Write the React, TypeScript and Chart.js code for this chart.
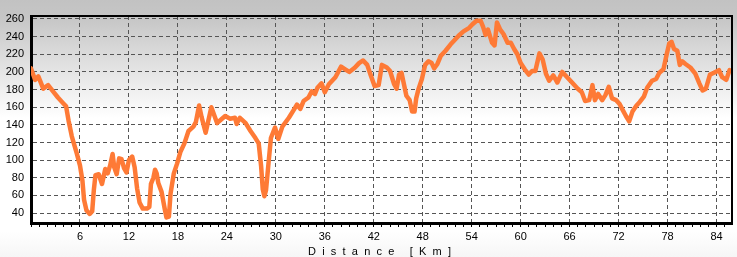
import React, { useEffect, useRef } from "react";
import { Chart, registerables } from "chart.js";

Chart.register(...registerables);

const distanceKm: number[] = [
  0, 0.5, 0.9, 1.5, 2.1, 2.7, 3.3, 4.0, 4.3, 4.6, 5.0, 5.6, 6.0, 6.3, 6.5, 6.8, 7.2, 7.5, 7.7, 7.9,
  8.3, 8.7, 9.1, 9.4, 9.7, 10.0, 10.2, 10.5, 10.8, 11.1, 11.4, 11.7, 12.0, 12.4, 12.7, 13.0, 13.3, 13.7, 14.2, 14.5,
  14.7, 15.0, 15.2, 15.4, 15.6, 16.0, 16.4, 16.6, 16.9, 17.1, 17.5, 17.9, 18.3, 18.8, 19.3, 19.9, 20.2, 20.6, 20.9, 21.4,
  22.1, 22.8, 23.8, 24.4, 25.0, 25.2, 25.6, 26.3, 26.9, 27.5, 27.9, 28.2, 28.4, 28.6, 28.8, 29.1, 29.4, 29.9, 30.3, 30.8,
  31.6, 32.2, 32.6, 33.0, 33.4, 34.0, 34.4, 34.8, 35.1, 35.6, 36.0, 36.5, 37.3, 38.0, 38.5, 39.0, 39.7, 40.2, 40.7, 41.2,
  41.6, 42.1, 42.6, 43.0, 43.6, 44.0, 44.5, 44.8, 45.1, 45.4, 45.7, 46.0, 46.4, 46.7, 47.0, 47.2, 47.5, 47.9, 48.3, 48.7,
  49.1, 49.4, 49.8, 50.2, 50.8, 51.4, 51.8, 52.4, 53.0, 53.7, 54.1, 54.6, 55.1, 55.4, 55.7, 56.0, 56.5, 56.8, 57.1, 57.5,
  57.9, 58.4, 58.8, 59.2, 59.6, 60.0, 60.5, 61.0, 61.4, 61.8, 62.3, 62.7, 63.1, 63.5, 64.0, 64.5, 65.1, 65.7, 66.3, 67.0,
  67.5, 67.9, 68.4, 68.8, 69.1, 69.5, 70.0, 70.4, 70.8, 71.2, 71.7, 72.1, 72.5, 72.9, 73.3, 73.7, 74.2, 74.6, 75.1, 75.5,
  76.1, 76.6, 77.0, 77.5, 77.9, 78.2, 78.5, 78.8, 79.2, 79.5, 79.8, 80.2, 80.8, 81.4, 81.9, 82.3, 82.7, 83.2, 83.7, 84.3,
  84.7, 85.2, 85.6,
];

const elevationM: number[] = [
  204, 191, 195, 181, 185, 178, 171, 164, 161, 145, 127, 108, 94, 77, 55, 43, 39, 42, 66, 83,
  84, 73, 90, 85, 94, 107, 92, 84, 102, 101, 91, 86, 100, 104, 92, 68, 52, 45, 45, 47,
  73, 80, 89, 85, 74, 64, 44, 35, 36, 62, 85, 96, 109, 119, 133, 138, 143, 162, 149, 131,
  160, 142, 150, 147, 148, 141, 148, 142, 133, 125, 119, 93, 67, 59, 66, 96, 125, 137, 124, 138,
  148, 157, 163, 158, 167, 171, 178, 175, 182, 187, 177, 186, 194, 206, 203, 200, 205, 210, 213, 208,
  197, 184, 185, 208, 205, 201, 186, 181, 197, 199, 186, 173, 168, 155, 155, 170, 181, 192, 208, 212,
  210, 204, 209, 218, 224, 231, 235, 241, 246, 250, 254, 258, 258, 251, 242, 248, 233, 230, 256, 248,
  243, 233, 233, 226, 220, 210, 203, 197, 201, 201, 221, 214, 198, 190, 196, 188, 200, 194, 188, 181,
  177, 167, 168, 185, 168, 175, 168, 174, 183, 170, 168, 164, 157, 150, 144, 155, 162, 166, 172, 182,
  190, 192, 199, 203, 220, 232, 234, 226, 224, 208, 212, 209, 205, 198, 187, 179, 181, 197, 199, 202,
  194, 191, 202,
];

const yTickValues: number[] = [40, 60, 80, 100, 120, 140, 160, 180, 200, 220, 240, 260];
const xMajorStep = 6;
const xMinorTicks: number[] = Array.from({ length: 86 }, (_, i) => i);
const axisTitle = "Distance [Km]";

const FONT = "'Liberation Sans', Arial, sans-serif";

const backgroundPlugin = {
  id: "bgGradient",
  beforeDraw(chart: any) {
    const { ctx, width, height } = chart;
    ctx.save();
    const g = ctx.createLinearGradient(0, 0, 0, height);
    g.addColorStop(0, "#c2c2c2");
    g.addColorStop(0.07, "#c6c6c6");
    g.addColorStop(0.46, "#ffffff");
    g.addColorStop(0.9, "#ffffff");
    g.addColorStop(1, "#f6f6f6");
    ctx.fillStyle = g;
    ctx.fillRect(0, 0, width, height);
    ctx.restore();
  },
  afterDraw(chart: any) {
    const { ctx, chartArea } = chart;
    ctx.save();
    ctx.strokeStyle = "#000";
    ctx.lineWidth = 2;
    ctx.beginPath();
    ctx.moveTo(chartArea.left, chartArea.top);
    ctx.lineTo(chartArea.right, chartArea.top);
    ctx.lineTo(chartArea.right, chartArea.bottom);
    ctx.stroke();
    // axis title with letter spacing
    ctx.fillStyle = "#000";
    ctx.font = `11px ${FONT}`;
    ctx.textBaseline = "middle";
    ctx.textAlign = "left";
    const spacing = 6.2;
    let total = 0;
    for (const ch of axisTitle) total += ctx.measureText(ch).width + spacing;
    total -= spacing;
    let x = (chartArea.left + chartArea.right) / 2 - total / 2 - 2;
    for (const ch of axisTitle) {
      ctx.fillText(ch, x, 251.5);
      x += ctx.measureText(ch).width + spacing;
    }
    ctx.restore();
  },
};

export default function App() {
  const canvasRef = useRef<HTMLCanvasElement | null>(null);

  useEffect(() => {
    document.body.style.margin = "0";
    const canvas = canvasRef.current;
    if (!canvas) return;
    const points = distanceKm.map((d, i) => ({ x: d, y: elevationM[i] }));
    const chart = new Chart(canvas, {
      type: "line",
      data: {
        datasets: [
          {
            data: points,
            borderColor: "#fe7a36",
            borderWidth: 4.5,
            pointRadius: 0,
            tension: 0,
            fill: false,
            borderJoinStyle: "round",
            borderCapStyle: "round",
          },
        ],
      },
      options: {
        animation: false,
        responsive: false,
        devicePixelRatio: 1,
        layout: { padding: { top: 16, right: 5, left: 0, bottom: 0 } },
        plugins: {
          legend: { display: false },
          tooltip: { enabled: false },
          title: { display: false },
        },
        scales: {
          x: {
            type: "linear",
            min: 0,
            max: 85.9,
            afterBuildTicks: (scale: any) => {
              scale.ticks = xMinorTicks.map((v) => ({ value: v }));
            },
            afterFit: (scale: any) => {
              scale.height = 34;
            },
            ticks: {
              autoSkip: false,
              maxRotation: 0,
              minRotation: 0,
              padding: 3,
              color: "#000",
              font: { family: FONT, size: 11 },
              callback: (v: any) => (Number(v) % xMajorStep === 0 && Number(v) !== 0 ? String(v) : ""),
            },
            grid: {
              color: (ctx: any) => {
                const v = ctx.tick ? ctx.tick.value : -1;
                return v % xMajorStep === 0 && v !== 0 ? "#555" : "rgba(0,0,0,0)";
              },
              tickColor: "#000",
              tickLength: 4,
              tickBorderDash: [],
              tickWidth: 1,
              lineWidth: 1,
            },
            border: { display: true, color: "#000", width: 3, dash: [4, 3] as any },
          },
          y: {
            type: "linear",
            min: 28.7,
            max: 263.4,
            afterBuildTicks: (scale: any) => {
              scale.ticks = yTickValues.map((v) => ({ value: v }));
            },
            afterFit: (scale: any) => {
              scale.width = 31;
            },
            ticks: {
              padding: 7,
              color: "#000",
              font: { family: FONT, size: 11 },
            },
            grid: {
              color: "#555",
              drawTicks: false,
              lineWidth: 1,
            },
            border: { display: true, color: "#000", width: 3, dash: [4, 3] as any },
          },
        },
      } as any,
      plugins: [backgroundPlugin],
    });
    return () => chart.destroy();
  }, []);

  return (
    <div style={{ position: "relative", width: 737, height: 257 }}>
      <canvas
        ref={canvasRef}
        width={737}
        height={257}
        style={{ position: "absolute", left: 0, top: 0, width: 737, height: 257 }}
      />
    </div>
  );
}
